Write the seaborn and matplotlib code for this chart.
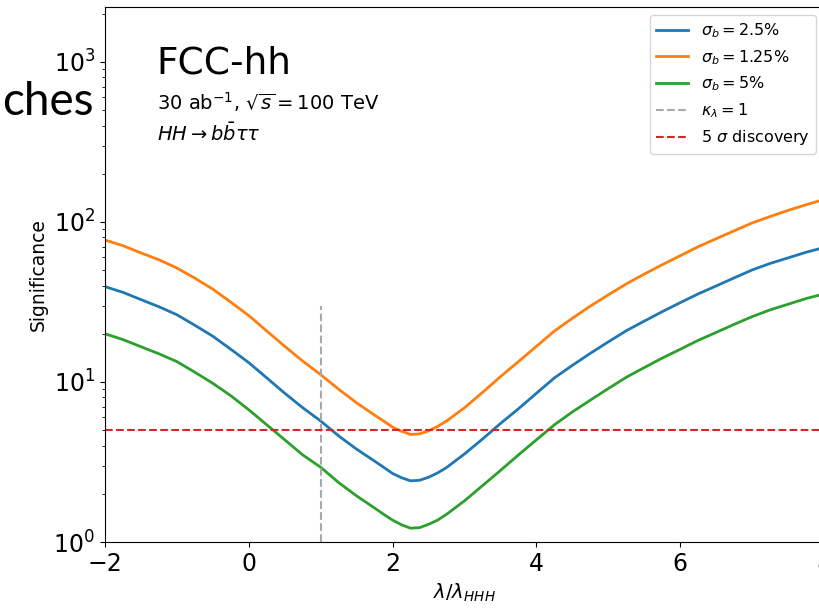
import matplotlib
matplotlib.use('agg')
import matplotlib.pyplot as plt
import seaborn as sns
import pandas as pd

# data
kappa = [-2.0, -1.75, -1.5, -1.25, -1.0, -0.75, -0.5, -0.25, 0.0, 0.25, 0.5, 0.75,
         1.0, 1.25, 1.5, 1.75, 1.875, 2.0, 2.125, 2.25, 2.375, 2.5, 2.625, 2.75,
         3.0, 3.25, 3.5, 3.75, 4.0, 4.25, 4.5, 4.75, 5.0, 5.25, 5.5, 5.75,
         6.0, 6.25, 6.5, 6.75, 7.0, 7.25, 7.5, 7.75, 8.0]
sig_2p5 = [39.4, 36.3, 32.7, 29.5, 26.3, 22.6, 19.3, 16.0, 13.2, 10.6, 8.5, 6.9,
           5.7, 4.6, 3.8, 3.2, 2.93, 2.68, 2.52, 2.41, 2.43, 2.54, 2.7, 2.92,
           3.55, 4.4, 5.5, 6.8, 8.5, 10.6, 12.7, 15.1, 17.8, 20.9, 24.0, 27.5,
           31.3, 35.5, 39.8, 44.7, 50.1, 55.0, 59.6, 64.6, 69.2]
sig_1p25 = [77, 71, 64, 58, 51.5, 44.5, 38, 31.5, 26, 20.8, 16.7, 13.5,
            11.1, 9.0, 7.4, 6.2, 5.7, 5.22, 4.92, 4.7, 4.74, 4.95, 5.27, 5.7,
            6.9, 8.6, 10.8, 13.4, 16.7, 20.8, 25.0, 29.8, 35.0, 41.0, 47.2, 54.0,
            61.5, 70, 78.5, 88, 98.5, 108, 118, 128, 138]
sig_5 = [20.0, 18.4, 16.6, 15.0, 13.4, 11.5, 9.8, 8.2, 6.7, 5.4, 4.35, 3.5,
         2.93, 2.35, 1.94, 1.63, 1.49, 1.37, 1.28, 1.22, 1.23, 1.29, 1.37, 1.49,
         1.81, 2.25, 2.8, 3.5, 4.35, 5.4, 6.5, 7.7, 9.1, 10.7, 12.3, 14.1,
         16.0, 18.2, 20.4, 22.9, 25.6, 28.2, 30.6, 33.2, 35.5]
series_labels = [r'$\sigma_b = 2.5\%$', r'$\sigma_b = 1.25\%$', r'$\sigma_b = 5\%$']
discovery = 5
sm_kappa = 1
sm_top = 30

df = pd.DataFrame({'kappa': kappa, 's2': sig_2p5, 's1': sig_1p25, 's5': sig_5})
colors = sns.color_palette('tab10')

fig = plt.figure(figsize=(8.2, 6.09), dpi=100)
ax = fig.add_axes([0.128, 0.110, 0.877, 0.8785])

for col, lab, c in zip(['s2', 's1', 's5'], series_labels, colors[:3]):
    sns.lineplot(data=df, x='kappa', y=col, ax=ax, color=c, linewidth=2, label=lab)

ax.vlines(sm_kappa, 1, sm_top, colors='darkgray', linestyles='--', linewidth=1.5,
          label=r'$\kappa_\lambda = 1$')
ax.axhline(discovery, color=colors[3], linestyle='--', linewidth=1.5,
           label=r'5 $\sigma$ discovery')

ax.set_yscale('log')
ax.set_xlim(-2, 8)
ax.set_ylim(1, 2200)
ax.tick_params(labelsize=17)
ax.set_xlabel(r'$\lambda/\lambda_{HHH}$', fontsize=14)
ax.set_ylabel('Significance', fontsize=13.5)
ax.legend(loc='upper right', fontsize=11.5)

ax.text(0.072, 0.895, 'FCC-hh', transform=ax.transAxes, fontsize=27, va='center')
ax.text(0.072, 0.822, r'30 ab$^{-1}$, $\sqrt{s} = 100$ TeV', transform=ax.transAxes,
        fontsize=14, va='center')
ax.text(0.072, 0.764, r'$HH \rightarrow b\bar{b}\tau\tau$', transform=ax.transAxes,
        fontsize=14, va='center')

# leftover slide text at the left edge
fig.text(0.114, 0.811, 'ches', fontsize=33, ha='right', va='baseline', family='Lato')

fig.savefig('out.png', dpi=100)
